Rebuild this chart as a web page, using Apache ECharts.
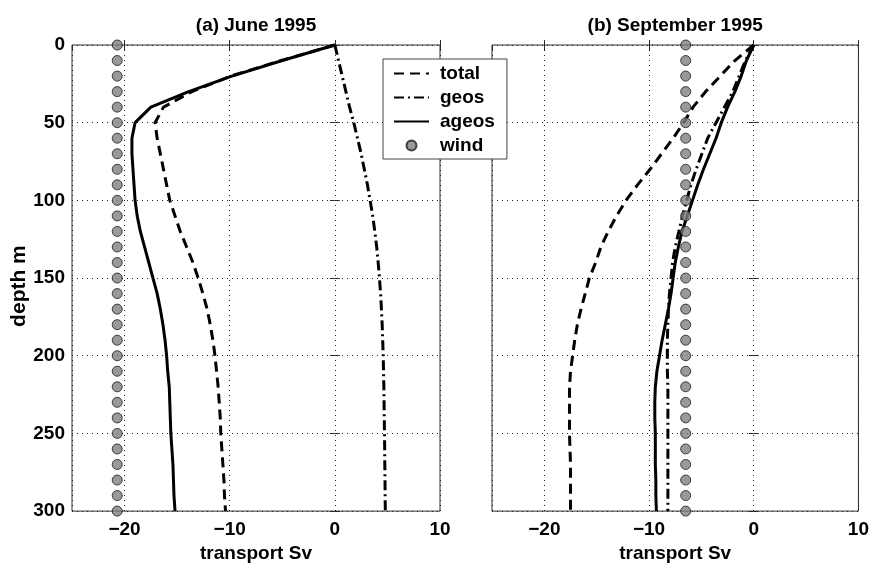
<!DOCTYPE html>
<html>
<head>
<meta charset="utf-8">
<title>Transport profiles 1995</title>
<script src="https://cdn.jsdelivr.net/npm/echarts@6/dist/echarts.min.js"></script>
<style>
  html, body { margin: 0; padding: 0; background: #fff; }
  #chart { width: 872px; height: 568px; }
</style>
</head>
<body>
<div id="chart"></div>
<script>
// Depth levels (m), shared by every profile
const depth = [0, 10, 20, 30, 40, 50, 60, 70, 80, 90, 100, 110, 120, 130, 140, 150,
  160, 170, 180, 190, 200, 210, 220, 230, 240, 250, 260, 270, 280, 290, 300];

// (a) June 1995 — transport (Sv)
const juneTotal = [0, -5.1, -9.9, -13.6, -16.3, -17.1, -16.9, -16.6, -16.3, -16.0, -15.7,
  -15.2, -14.7, -14.1, -13.5, -13.0, -12.55, -12.15, -11.85, -11.6, -11.4, -11.25, -11.1,
  -11.0, -10.9, -10.85, -10.75, -10.65, -10.55, -10.5, -10.4];
const juneGeos = [0, 0.35, 0.7, 1.05, 1.4, 1.8, 2.15, 2.5, 2.8, 3.1, 3.35, 3.6, 3.8, 3.98,
  4.12, 4.24, 4.35, 4.43, 4.5, 4.55, 4.6, 4.63, 4.66, 4.68, 4.7, 4.72, 4.74, 4.75, 4.77,
  4.78, 4.8];
const juneAgeos = [0, -5.0, -9.8, -13.9, -17.5, -19.0, -19.3, -19.3, -19.2, -19.1, -19.0,
  -18.8, -18.5, -18.1, -17.7, -17.3, -16.9, -16.6, -16.35, -16.15, -16.0, -15.9, -15.75,
  -15.7, -15.65, -15.6, -15.5, -15.4, -15.35, -15.3, -15.2];
const juneWind = [-20.7, -20.7, -20.7, -20.7, -20.7, -20.7, -20.7, -20.7, -20.7, -20.7,
  -20.7, -20.7, -20.7, -20.7, -20.7, -20.7, -20.7, -20.7, -20.7, -20.7, -20.7, -20.7,
  -20.7, -20.7, -20.7, -20.7, -20.7, -20.7, -20.7, -20.7, -20.7];

// (b) September 1995 — transport (Sv)
const sepTotal = [0, -1.8, -3.2, -4.6, -5.8, -6.7, -7.7, -8.8, -9.9, -11.1, -12.2, -13.1,
  -13.9, -14.6, -15.1, -15.7, -16.1, -16.5, -16.85, -17.1, -17.3, -17.5, -17.6, -17.6,
  -17.6, -17.6, -17.55, -17.5, -17.5, -17.5, -17.5];
const sepGeos = [0, -0.8, -1.4, -2.0, -2.8, -3.6, -4.4, -4.95, -5.5, -6.0, -6.4, -6.8,
  -7.15, -7.5, -7.75, -7.9, -8.05, -8.15, -8.2, -8.25, -8.25, -8.25, -8.2, -8.2, -8.2,
  -8.2, -8.2, -8.2, -8.2, -8.2, -8.2];
const sepAgeos = [0, -0.7, -1.2, -1.8, -2.5, -3.1, -3.6, -4.2, -4.8, -5.35, -5.85, -6.35,
  -6.85, -7.2, -7.5, -7.7, -7.9, -8.15, -8.45, -8.75, -9.0, -9.25, -9.4, -9.45, -9.45,
  -9.4, -9.4, -9.4, -9.35, -9.35, -9.3];
const sepWind = [-6.5, -6.5, -6.5, -6.5, -6.5, -6.5, -6.5, -6.5, -6.5, -6.5, -6.5, -6.5,
  -6.5, -6.5, -6.5, -6.5, -6.5, -6.5, -6.5, -6.5, -6.5, -6.5, -6.5, -6.5, -6.5, -6.5,
  -6.5, -6.5, -6.5, -6.5, -6.5];

// Axis text
const panelTitles = ['(a) June 1995', '(b) September 1995'];
const xName = 'transport Sv';
const yName = 'depth m';
const seriesNames = ['total', 'geos', 'ageos', 'wind'];

const FONT = '"Liberation Sans", Arial, Helvetica, sans-serif';
const INK = '#000';
const FRAME = '#2a2a2a';
const FS = 19;

function pairs(xs) { return xs.map((v, i) => [v, depth[i]]); }

const grids = [
  { left: 72, top: 45, width: 368, height: 473, show: true, borderColor: FRAME, borderWidth: 1, backgroundColor: 'transparent' },
  { left: 492, top: 45, width: 367, height: 473, show: true, borderColor: FRAME, borderWidth: 1, backgroundColor: 'transparent' }
];

const tickStyle = { show: true, inside: true, length: 5, lineStyle: { color: FRAME, width: 1 } };
const gridStyle = { show: true, lineStyle: { color: '#222', width: 1, type: [1, 4] } };

function minus(v) { return v < 0 ? '\u2212' + Math.abs(v) : String(v); }

const xAxes = [];
const yAxes = [];
[0, 1].forEach(g => {
  // bottom transport axis
  xAxes.push({
    type: 'value', gridIndex: g, position: 'bottom', min: -25, max: 10, splitNumber: 4,
    axisLine: { show: false }, axisTick: tickStyle, splitLine: gridStyle,
    axisLabel: {
      color: INK, fontSize: FS, fontWeight: 'bold', fontFamily: FONT, margin: 9,
      showMinLabel: false,
      formatter: v => (v % 10 === 0 ? minus(v) : '')
    },
    name: xName, nameLocation: 'middle', nameGap: 30,
    nameTextStyle: { color: INK, fontSize: FS, fontWeight: 'bold', fontFamily: FONT }
  });
  // top edge: ticks plus the panel title
  xAxes.push({
    type: 'value', gridIndex: g, position: 'top', min: -25, max: 10, splitNumber: 4,
    axisLine: { show: false }, axisTick: tickStyle, splitLine: { show: false },
    axisLabel: { show: false },
    name: panelTitles[g], nameLocation: 'middle', nameGap: 10,
    nameTextStyle: { color: INK, fontSize: FS, fontWeight: 'bold', fontFamily: FONT }
  });
  // left depth axis
  yAxes.push({
    type: 'value', gridIndex: g, position: 'left', inverse: true, min: 0, max: 300, interval: 50,
    axisLine: { show: false }, axisTick: tickStyle, splitLine: gridStyle,
    axisLabel: {
      show: g === 0, color: INK, fontSize: FS, fontWeight: 'bold', fontFamily: FONT, margin: 7
    },
    name: g === 0 ? yName : '', nameLocation: 'middle', nameGap: 39, nameRotate: 90,
    nameTextStyle: { color: INK, fontSize: 21, fontWeight: 'bold', fontFamily: FONT, padding: [0, 16, 0, 0] }
  });
  // right edge ticks
  yAxes.push({
    type: 'value', gridIndex: g, position: 'right', inverse: true, min: 0, max: 300, interval: 50,
    axisLine: { show: false }, axisTick: tickStyle, splitLine: { show: false },
    axisLabel: { show: false }
  });
});

function lineSeries(name, data, g, type) {
  return {
    name, type: 'line', xAxisIndex: g * 2, yAxisIndex: g * 2, data: pairs(data),
    symbol: 'none', showSymbol: false, clip: false, z: 3,
    lineStyle: { color: '#000', width: 3, type },
    // no marker dot on the line (keeps the legend sample a plain line too)
    itemStyle: { color: 'rgba(0,0,0,0)', borderColor: 'rgba(0,0,0,0)', borderWidth: 0 }
  };
}
function windSeries(data, g) {
  return {
    name: 'wind', type: 'scatter', xAxisIndex: g * 2, yAxisIndex: g * 2, data: pairs(data),
    symbol: 'circle', symbolSize: 10, clip: false, z: 4,
    itemStyle: { color: '#808080', borderColor: '#1a1a1a', borderWidth: 1 }
  };
}

const DASH = [10, 6];
const DASHDOT = [10, 4, 2, 4];

const option = {
  animation: false,
  backgroundColor: '#fff',
  textStyle: { fontFamily: FONT },
  grid: grids,
  xAxis: xAxes,
  yAxis: yAxes,
  legend: {
    data: seriesNames,
    orient: 'vertical',
    left: 383, top: 59,
    padding: [5, 12, 4, 10],
    itemWidth: 35, itemHeight: 10, itemGap: 5,
    backgroundColor: '#fff', borderColor: '#444', borderWidth: 1, borderRadius: 0,
    textStyle: { color: INK, fontSize: FS, fontWeight: 'bold', fontFamily: FONT, padding: [0, 0, 0, 6] },
    z: 10
  },
  series: [
    lineSeries('total', juneTotal, 0, DASH),
    lineSeries('geos', juneGeos, 0, DASHDOT),
    lineSeries('ageos', juneAgeos, 0, 'solid'),
    windSeries(juneWind, 0),
    lineSeries('total', sepTotal, 1, DASH),
    lineSeries('geos', sepGeos, 1, DASHDOT),
    lineSeries('ageos', sepAgeos, 1, 'solid'),
    windSeries(sepWind, 1)
  ]
};

const chart = echarts.init(document.getElementById('chart'), null, { renderer: 'canvas' });
chart.setOption(option);
</script>
</body>
</html>
